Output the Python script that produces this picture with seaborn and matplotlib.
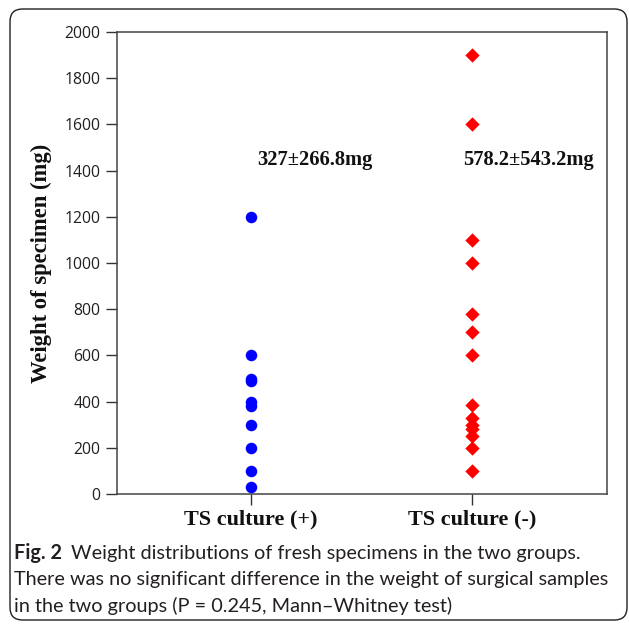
import matplotlib
matplotlib.use("Agg")
import matplotlib.pyplot as plt
import seaborn as sns
import pandas as pd
from matplotlib.patches import FancyBboxPatch

groups = ["TS culture (+)", "TS culture (-)"]
pos_weights = [1200, 600, 500, 490, 400, 380, 300, 200, 100, 30]
neg_weights = [1900, 1600, 1100, 1000, 780, 700, 600, 385, 330, 300, 280, 250, 200, 100]
annotations = ["327\u00b1266.8mg", "578.2\u00b1543.2mg"]
yticks = [0, 200, 400, 600, 800, 1000, 1200, 1400, 1600, 1800, 2000]

df_pos = pd.DataFrame({"group": groups[0], "weight": pos_weights})
df_neg = pd.DataFrame({"group": groups[1], "weight": neg_weights})

sns.set_style("white")
plt.rcParams["font.family"] = ["DejaVu Sans"]

W, H = 629, 628
fig = plt.figure(figsize=(W / 100, H / 100), dpi=100)
fig.patch.set_facecolor("white")

box = FancyBboxPatch((10 / W, 8 / H), 617 / W, 611 / H,
                     boxstyle="round,pad=0,rounding_size=0.02",
                     transform=fig.transFigure, fill=False,
                     edgecolor="#231f20", linewidth=1.0)
fig.patches.append(box)

ax = fig.add_axes([117 / W, 1 - 494 / H, 490 / W, 462 / H])

sns.stripplot(data=df_pos, x="group", y="weight", order=groups, jitter=False,
              marker="o", color="#0000ff", size=8.3, linewidth=0, ax=ax)
sns.stripplot(data=df_neg, x="group", y="weight", order=groups, jitter=False,
              marker="D", color="#ff0000", size=7.3, linewidth=0, ax=ax)

ax.set_xlim(-0.605, 1.612)
ax.set_ylim(0, 2000)
ax.set_yticks(yticks)
ax.set_yticklabels([str(v) for v in yticks], fontfamily="Open Sans", fontsize=11.3, color="#231f20")
ax.set_xticks([0, 1])
ax.set_xticklabels(groups, fontfamily="Liberation Serif", fontweight="bold", fontsize=16, color="#111111")
ax.tick_params(axis="both", direction="out", length=8, width=1, color="#333333", left=True, bottom=True)
ax.tick_params(axis="x", pad=3)
ax.tick_params(axis="y", pad=4)
for s in ax.spines.values():
    s.set_visible(True)
    s.set_color("#444444")
    s.set_linewidth(1.1)

ax.set_xlabel("")
ax.set_ylabel("Weight of specimen (mg)", fontfamily="Liberation Serif", fontweight="bold",
              fontsize=16.3, color="#111111", labelpad=9)

ax.text(0.29, 1446, annotations[0], ha="center", va="center",
        fontfamily="Liberation Serif", fontweight="bold", fontsize=14.8, color="#111111")
ax.text(1.255, 1446, annotations[1], ha="center", va="center",
        fontfamily="Liberation Serif", fontweight="bold", fontsize=14.8, color="#111111")

cap_color = "#231f20"
cap_size = 14.3
t1 = fig.text(14 / W, 1 - 553 / H, "Fig. 2", fontfamily="Lato", fontweight="bold",
              fontsize=cap_size, color=cap_color, va="center", ha="left")
fig.canvas.draw()
bb = t1.get_window_extent()
fig.text((bb.x1 + 9) / W, 1 - 553 / H, "Weight distributions of fresh specimens in the two groups.",
         fontfamily="Lato", fontsize=cap_size, color=cap_color, va="center", ha="left")
fig.text(14 / W, 1 - 580 / H, "There was no significant difference in the weight of surgical samples",
         fontfamily="Lato", fontsize=cap_size, color=cap_color, va="center", ha="left")
fig.text(14 / W, 1 - 606 / H, "in the two groups (P = 0.245, Mann\u2013Whitney test)",
         fontfamily="Lato", fontsize=cap_size, color=cap_color, va="center", ha="left")

fig.savefig("out.png", dpi=100, facecolor="white")
